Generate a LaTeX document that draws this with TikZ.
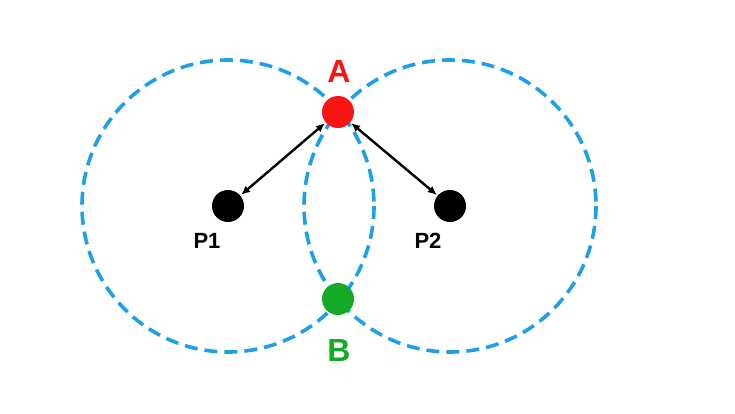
\documentclass[tikz,border=0pt]{standalone}
\usepackage{fontspec}
\setmainfont{Liberation Sans}
\usetikzlibrary{arrows.meta}
\definecolor{cblue}{RGB}{30,160,232}
\definecolor{cred}{RGB}{250,20,20}
\definecolor{cgreen}{RGB}{20,170,40}
\tikzset{
  ring/.style={draw=cblue, line width=3.6pt, dash pattern=on 13pt off 7pt},
  dot/.style={circle, inner sep=0pt, minimum size=#1},
  lbl/.style={font=\bfseries\fontsize{#1}{#1}\selectfont},
  dbl/.style={{Latex[length=9pt,width=8pt]}-{Latex[length=9pt,width=8pt]}, line width=2.4pt, black, shorten <=1pt, shorten >=1pt}
}
\begin{document}
\begin{tikzpicture}[x=1pt,y=-1pt]
\useasboundingbox (0,0) rectangle (735,413);
\draw[ring] (228,206) circle (146);
\draw[ring] (450,206) circle (146);
\node[dot=32pt, fill=black] (p1) at (228,206) {};
\node[dot=32pt, fill=black] (p2) at (450,206) {};
\node[dot=32pt, fill=cred] (a) at (338,112) {};
\node[dot=32pt, fill=cgreen] (b) at (338,299) {};
\node[lbl=32, text=cred] (la) at (339,71) {A};
\node[lbl=32, text=cgreen] (lb) at (339,350) {B};
\node[lbl=22] (l1) at (207,241) {P1};
\node[lbl=22] (l2) at (428,241) {P2};
\draw[dbl] (a) -- (p1);
\draw[dbl] (a) -- (p2);
\end{tikzpicture}
\end{document}
